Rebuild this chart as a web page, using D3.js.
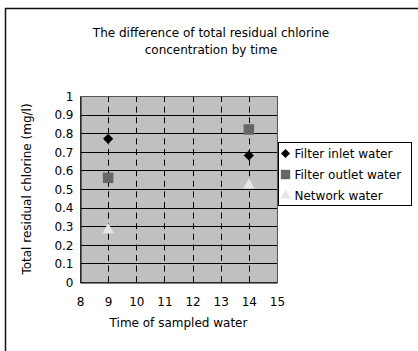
<!DOCTYPE html>
<html>
<head>
<meta charset="utf-8">
<script src="https://cdn.jsdelivr.net/npm/d3@7"></script>
<style>
  body { margin: 0; background: #fff; }
  text { font-family: "DejaVu Sans", sans-serif; fill: #000; }
</style>
</head>
<body>
<div id="vis"></div>
<script>
// frame size
const FRAME_WIDTH = 418;
const FRAME_HEIGHT = 351;
const PLOT = {left: 80, right: 277, top: 96, bottom: 282};
const FONT = "DejaVu Sans, sans-serif";

// data
const TIMES = [9, 14];
const INLET = [0.77, 0.68];
const OUTLET = [0.56, 0.82];
const NETWORK = [0.28, 0.52];
const X_TICKS = [8, 9, 10, 11, 12, 13, 14, 15];
const Y_TICKS = [0, 0.1, 0.2, 0.3, 0.4, 0.5, 0.6, 0.7, 0.8, 0.9, 1];
const SERIES_NAMES = ["Filter inlet water", "Filter outlet water", "Network water"];

const SERIES = [
	{name: SERIES_NAMES[0], values: INLET, shape: d3.symbolSquare, size: 52, rotate: 45, color: "#000000"},
	{name: SERIES_NAMES[1], values: OUTLET, shape: d3.symbolSquare, size: 110, rotate: 0, color: "#666666"},
	{name: SERIES_NAMES[2], values: NETWORK, shape: d3.symbolTriangle, size: 58, rotate: 0, color: "#e6e6e6"}
];

const FRAME = d3.select("#vis")
				.append("svg")
					.attr("width", FRAME_WIDTH)
					.attr("height", FRAME_HEIGHT);

// outer chart border (runs off the right/bottom edge)
FRAME.append("rect")
		.attr("x", 5.5).attr("y", 8.5)
		.attr("width", 430).attr("height", 360)
		.attr("fill", "none")
		.attr("stroke", "#111")
		.attr("stroke-width", 1.5);

// title
FRAME.append("text")
		.attr("x", 211).attr("y", 37)
		.attr("text-anchor", "middle")
		.attr("font-size", "12px")
		.text("The difference of total residual chlorine");
FRAME.append("text")
		.attr("x", 211).attr("y", 54)
		.attr("text-anchor", "middle")
		.attr("font-size", "12px")
		.text("concentration by time");

// scales
const X_SCALE = d3.scaleLinear().domain([8, 15]).range([PLOT.left, PLOT.right]);
const Y_SCALE = d3.scaleLinear().domain([0, 1]).range([PLOT.bottom, PLOT.top]);

// plot background
FRAME.append("rect")
		.attr("x", PLOT.left).attr("y", PLOT.top)
		.attr("width", PLOT.right - PLOT.left)
		.attr("height", PLOT.bottom - PLOT.top)
		.attr("fill", "#c0c0c0");

// horizontal gridlines
FRAME.selectAll(".hgrid")
		.data(Y_TICKS.slice(1, -1))
		.enter()
		.append("line")
			.attr("x1", PLOT.left).attr("x2", PLOT.right)
			.attr("y1", (d) => Math.round(Y_SCALE(d)) + 0.5)
			.attr("y2", (d) => Math.round(Y_SCALE(d)) + 0.5)
			.attr("stroke", "#000")
			.attr("stroke-width", 1);

// vertical dashed gridlines
FRAME.selectAll(".vgrid")
		.data(X_TICKS.slice(1, -1))
		.enter()
		.append("line")
			.attr("x1", (d) => Math.round(X_SCALE(d)) + 0.5)
			.attr("x2", (d) => Math.round(X_SCALE(d)) + 0.5)
			.attr("y1", PLOT.top).attr("y2", PLOT.bottom)
			.attr("stroke", "#000")
			.attr("stroke-width", 1)
			.attr("stroke-dasharray", "6,4.6");

// plot border
FRAME.append("rect")
		.attr("x", PLOT.left + 0.5).attr("y", PLOT.top + 0.5)
		.attr("width", PLOT.right - PLOT.left)
		.attr("height", PLOT.bottom - PLOT.top)
		.attr("fill", "none")
		.attr("stroke", "#555")
		.attr("stroke-width", 1);

// y axis
const yAxis = FRAME.append("g")
		.attr("transform", "translate(" + (PLOT.left + 0.5) + ",0.5)")
		.call(d3.axisLeft(Y_SCALE).tickValues(Y_TICKS).tickSize(0).tickPadding(7)
				.tickFormat((d) => String(+d.toFixed(1))));
yAxis.select(".domain").attr("stroke", "#000");
yAxis.selectAll("text").attr("font-size", "12px").attr("font-family", FONT);

// x axis
const xAxis = FRAME.append("g")
		.attr("transform", "translate(0," + (PLOT.bottom + 0.5) + ")")
		.call(d3.axisBottom(X_SCALE).tickValues(X_TICKS).tickSize(0).tickPadding(15)
				.tickFormat((d) => String(d)));
xAxis.select(".domain").attr("stroke", "#000");
xAxis.selectAll("text").attr("font-size", "12px").attr("font-family", FONT);

// small inner tick marks on x axis
FRAME.selectAll(".xtick")
		.data(X_TICKS.slice(1, -1))
		.enter()
		.append("line")
			.attr("x1", (d) => Math.round(X_SCALE(d)) + 0.5)
			.attr("x2", (d) => Math.round(X_SCALE(d)) + 0.5)
			.attr("y1", PLOT.bottom - 4).attr("y2", PLOT.bottom)
			.attr("stroke", "#000");

// axis titles
FRAME.append("text")
		.attr("x", (PLOT.left + PLOT.right) / 2).attr("y", 327)
		.attr("text-anchor", "middle")
		.attr("font-size", "12px")
		.text("Time of sampled water");
FRAME.append("text")
		.attr("transform", "translate(31," + (PLOT.top + PLOT.bottom) / 2 + ") rotate(-90)")
		.attr("text-anchor", "middle")
		.attr("font-size", "12px")
		.text("Total residual chlorine (mg/l)");

// points
SERIES.forEach((s) => {
	FRAME.selectAll(null)
			.data(TIMES.map((t, i) => ({t: t, v: s.values[i]})))
			.enter()
			.append("path")
				.attr("d", d3.symbol().type(s.shape).size(s.size))
				.attr("transform", (d) => "translate(" + X_SCALE(d.t) + "," + Y_SCALE(d.v) + ") rotate(" + s.rotate + ")")
				.attr("fill", s.color);
});

// legend
const LEGEND = FRAME.append("g").attr("transform", "translate(278.5,142.5)");
LEGEND.append("rect")
		.attr("width", 133).attr("height", 63)
		.attr("fill", "#fff")
		.attr("stroke", "#000");
SERIES.forEach((s, i) => {
	const y = 11 + i * 21;
	LEGEND.append("path")
			.attr("d", d3.symbol().type(s.shape).size(s.size * 0.8))
			.attr("transform", "translate(7," + y + ") rotate(" + s.rotate + ")")
			.attr("fill", s.color);
	LEGEND.append("text")
			.attr("x", 16).attr("y", y + 4.5)
			.attr("font-size", "12px")
			.text(s.name);
});
</script>
</body>
</html>
